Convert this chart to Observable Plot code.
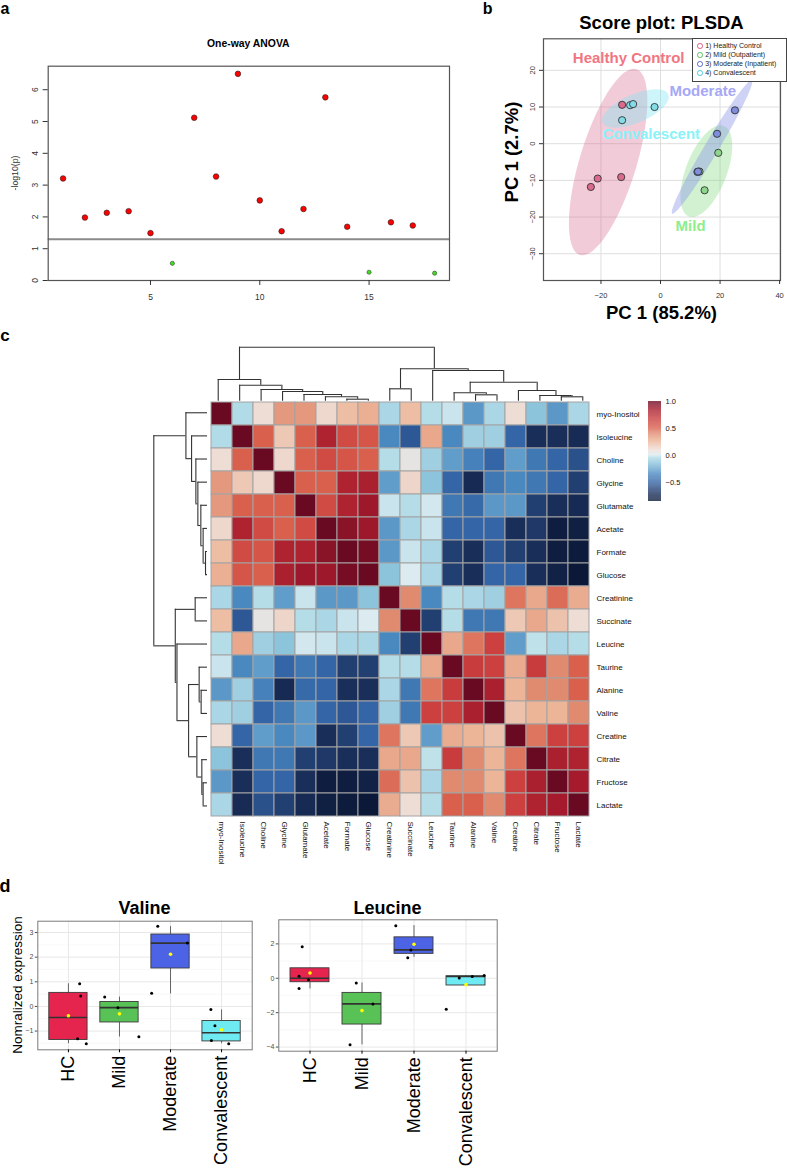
<!DOCTYPE html>
<html><head><meta charset="utf-8">
<script src="https://cdn.jsdelivr.net/npm/d3@7"></script>
<script src="https://cdn.jsdelivr.net/npm/@observablehq/plot@0.6"></script>
<style>
body{margin:0;background:#fff;}
#fig{position:relative;width:787px;height:1169px;overflow:hidden;background:#fff;font-family:"Liberation Sans",Arial,Helvetica,sans-serif;}
</style></head><body><div id="fig"></div>
<script>
// ---------------- DATA ----------------
// Panel a: one-way ANOVA
const anovaIndex = [1,2,3,4,5,6,7,8,9,10,11,12,13,14,15,16,17,18];
const anovaLogP  = [3.21,1.98,2.13,2.18,1.49,0.54,5.12,3.27,6.50,2.52,1.55,2.25,5.76,1.69,0.26,1.83,1.73,0.23];
const anovaThreshold = 1.30;
const anovaYTicks = [0,1,2,3,4,5,6];
const anovaXTicks = [5,10,15];

// Panel b: PLS-DA scores
const plsGroupNames = ["Healthy Control","Mild","Moderate","Convalescent"];
const plsLegendText = ["1) Healthy Control","2) Mild (Outpatient)","3) Moderate (Inpatient)","4) Convalescent"];
const plsGroup = [0,0,0,0, 1,1,1, 2,2,2,2, 3,3,3,3];
const plsX = [-12.9,-21.1,-23.4,-13.2, 19.4,14.8,13.1, 25.0,19.0,12.4,12.6, -12.9,-10.2,-9.2,-2.0];
const plsY = [10.6,-9.5,-11.8,-9.1, -2.5,-12.7,-7.6, 9.1,2.7,-7.7,-7.6, 6.4,10.5,10.8,10.0];
// confidence ellipses: centre and two semi-axis vectors (data units)
const ellCx = [-17.6, 15.4, 17.3, -8.4];
const ellCy = [-5.0, -7.5, -0.9, 9.6];
const ellAx = [9.49, 5.87, 13.38, 11.03];
const ellAy = [25.33, 12.34, 18.19, 3.83];
const ellBx = [9.13, 6.40, 2.02, 1.88];
const ellBy = [-2.25, -2.0, -0.98, -3.56];
const plsLabelX = [-10.7, 10.1, 14.2, -3.1];
const plsLabelY = [23.2, -22.6, 14.3, 2.7];
const plsXTicks = [-20,0,20,40];
const plsYTicks = [-30,-20,-10,0,10,20];

// Panel c: correlation heatmap (lower triangle, clustered order)
const heatLabels = ["myo-Inositol","Isoleucine","Choline","Glycine","Glutamate","Acetate","Formate","Glucose",
  "Creatinine","Succinate","Leucine","Taurine","Alanine","Valine","Creatine","Citrate","Fructose","Lactate"];
const corrLower = [
  [1],
  [-0.05,1],
  [0.10,0.50,1],
  [0.35,0.18,0.12,1],
  [0.35,0.50,0.50,0.50,1],
  [0.12,0.80,0.60,0.50,0.60,1],
  [0.22,0.60,0.55,0.80,0.80,0.92,1],
  [0.27,0.55,0.50,0.82,0.87,0.87,0.97,1],
  [-0.07,-0.35,-0.04,-0.28,-0.02,-0.30,-0.30,-0.15,1],
  [0.22,-0.55,0.05,0.13,-0.04,-0.07,-0.02,0.00,0.40,1],
  [-0.04,0.30,-0.10,-0.15,-0.01,-0.02,-0.07,-0.07,-0.35,-0.65,1],
  [-0.02,-0.35,-0.28,-0.50,-0.42,-0.50,-0.65,-0.65,-0.04,-0.04,0.30,1],
  [-0.30,-0.10,-0.38,-0.75,-0.48,-0.50,-0.72,-0.72,-0.07,-0.42,0.45,0.67,1],
  [-0.07,-0.10,-0.50,-0.42,-0.30,-0.50,-0.55,-0.50,-0.10,-0.42,0.65,0.65,0.82,1],
  [0.10,-0.50,-0.28,-0.35,-0.30,-0.72,-0.65,-0.50,0.45,0.18,-0.28,0.28,0.25,0.20,1],
  [-0.15,-0.72,-0.42,-0.42,-0.65,-0.68,-0.72,-0.72,0.30,0.30,-0.03,0.67,0.40,0.25,0.45,1],
  [-0.30,-0.72,-0.50,-0.50,-0.72,-0.83,-0.83,-0.80,0.47,0.20,-0.07,0.40,0.40,0.25,0.65,0.82,1],
  [-0.07,-0.74,-0.58,-0.65,-0.75,-0.82,-0.85,-0.87,0.28,0.10,-0.04,0.50,0.50,0.40,0.65,0.80,0.85,1]
];
// hclust-style merges (negative = leaf, 1-based; positive = earlier merge) and merge heights
const dendroMerge = [[-7,-8],[-6,1],[-5,2],[-4,3],[-3,4],[-2,5],[-1,6],
  [-17,-18],[-16,8],[-15,9],[-13,-14],[-12,11],[12,10],[-11,13],[-9,-10],[15,14],[7,16]];
const dendroHeight = [0.074,0.163,0.248,0.359,0.433,0.593,0.804,
  0.163,0.211,0.396,0.237,0.311,0.704,1.137,0.459,1.200,2.000];
const colorbarTicks = [1,0.5,0,-0.5];

// Panel d: box plots
const boxCats = ["HC","Mild","Moderate","Convalescent"];
const valLo   = [-1.51,-1.24,0.51,-1.51];
const valQ1   = [-1.36,-0.65,1.54,-1.42];
const valMed  = [-0.45,-0.05,2.57,-1.07];
const valQ3   = [0.55,0.18,2.92,-0.59];
const valHi   = [0.92,0.38,3.24,-0.14];
const valMean = [-0.38,-0.30,2.12,-0.95];
const valPtGroup = [0,0,0,0, 1,1,1, 2,2,2, 3,3,3,3];
const valPtJitter = [0.22,0.24,0.18,0.35, -0.29,-0.03,0.38, -0.25,0.33,-0.37, -0.21,-0.13,-0.20,0.14];
const valPtValue = [0.92,0.42,-1.31,-1.51, 0.38,-0.05,-1.23, 3.26,2.58,0.54, -0.12,-0.78,-1.38,-1.51];
const leuLo   = [-0.62,-3.87,1.22,-0.42];
const leuQ1   = [-0.23,-2.69,1.42,-0.42];
const leuMed  = [0.00,-1.49,1.65,0.10];
const leuQ3   = [0.58,-0.85,2.38,0.12];
const leuHi   = [0.58,-0.27,3.06,0.16];
const leuMean = [0.31,-1.88,1.98,-0.37];
const leuPtGroup = [0,0,0,0, 1,1,1, 2,2,2, 3,3,3,3];
const leuPtJitter = [-0.15,-0.21,-0.03,-0.21, -0.11,0.21,-0.23, -0.35,-0.06,-0.12, -0.13,0.12,0.35,-0.38];
const leuPtValue = [1.84,0.12,-0.09,-0.60, -0.27,-1.49,-3.87, 3.06,1.65,1.19, 0.02,0.10,0.16,-1.80];

// ---------------- STYLE ----------------
const FONT = '"Liberation Sans", Arial, Helvetica, sans-serif';
const plsPointColors = ["#DB6A8C","#8ED68E","#7E8EDC","#84DCE8"];
const plsEllColors = ["#D8628C","#7CD67C","#8A96E8","#7FE6F0"];
const plsEllOpacity = [0.33,0.35,0.42,0.38];
const plsLabelColors = ["#F07682","#8CEE8C","#A6A8F6","#8AF2F8"];
const plsLegendColors = ["#E05A80","#5CC05C","#5A6AD0","#4CCCDC"];
const boxColors = ["#E6254F","#58C257","#4D63E5","#6EEAF3"];
const heatStops = [-0.9,-0.72,-0.5,-0.35,-0.15,-0.04,0.0,0.1,0.25,0.4,0.5,0.65,0.85,1];
const heatColors = ["#081430","#1A2E5A","#3465A6","#4A88C0","#8CC4DC","#B5DDE8","#DCEBF0","#EEDDD5","#EDB598","#E08A70","#D9604D","#CC4040","#A51A2C","#6A0A22"];

const fig = document.getElementById("fig");
function place(el, left, top) {
  el.style.position = "absolute"; el.style.left = left + "px"; el.style.top = top + "px";
  el.style.overflow = "visible";
  fig.appendChild(el); return el;
}
function label(text, x, y, {size = 10, weight = "normal", color = "#000", rotate = 0} = {}) {
  const d = document.createElement("div");
  d.textContent = text;
  d.style.cssText = `position:absolute;left:${x}px;top:${y}px;white-space:nowrap;line-height:1;font-size:${size}px;font-weight:${weight};color:${color};font-family:${FONT};transform:translate(-50%,-50%) rotate(${rotate}deg);`;
  fig.appendChild(d);
}

// ---------------- PANEL A ----------------
const anova = anovaIndex.map((x, i) => ({x, y: anovaLogP[i], sig: anovaLogP[i] > anovaThreshold}));
place(Plot.plot({
  width: 460, height: 300,
  marginLeft: 47.7, marginRight: 11, marginTop: 65.7, marginBottom: 20,
  style: {fontFamily: FONT, background: "transparent", color: "#333"},
  x: {domain: [0.32, 18.68]},
  y: {domain: [0, 6.74]},
  marks: [
    Plot.ruleY([anovaThreshold], {stroke: "#8a8a8a", strokeWidth: 2}),
    Plot.dot(anova.filter(d => d.sig), {x: "x", y: "y", r: 2.8, fill: "#FF0000", stroke: "#222", strokeWidth: 0.6}),
    Plot.dot(anova.filter(d => !d.sig), {x: "x", y: "y", r: 2.1, fill: "#3EE01E", stroke: "#222", strokeWidth: 0.5}),
    Plot.frame({stroke: "#555", strokeWidth: 1.2}),
    Plot.axisY(anovaYTicks, {tickSize: 5, tickRotate: -90, tickPadding: 5, fontSize: 8.5, label: null}),
    Plot.axisX(anovaXTicks, {tickSize: 5, tickPadding: 8.5, fontSize: 8.5, label: null})
  ]
}), 0, 0);
label("a", 5, 9, {size: 16, weight: "bold"});
label("One-way ANOVA", 248.3, 44, {size: 10.4, weight: "bold"});
label("-log10(p)", 15, 173, {size: 8.7, color: "#333", rotate: -90});

// ---------------- PANEL B ----------------
const plsPts = plsX.map((x, i) => ({x, y: plsY[i], g: plsGroup[i]}));
function ellipsePts(k) {
  return d3.range(0, 2 * Math.PI + 0.001, Math.PI / 60).map(t => ({
    x: ellCx[k] + Math.cos(t) * ellAx[k] + Math.sin(t) * ellBx[k],
    y: ellCy[k] + Math.cos(t) * ellAy[k] + Math.sin(t) * ellBy[k]
  }));
}
const plsLabels = plsGroupNames.map((name, i) => ({name, x: plsLabelX[i], y: plsLabelY[i], c: plsLabelColors[i]}));
place(Plot.plot({
  width: 317, height: 330,
  marginLeft: 73, marginRight: 7, marginTop: 38.3, marginBottom: 50,
  style: {fontFamily: FONT, background: "transparent", color: "#333"},
  x: {domain: [-39.3, 40.3]},
  y: {domain: [-37.3, 28.6]},
  color: {type: "identity"},
  marks: [
    Plot.gridX(plsXTicks, {stroke: "#DEDEDE", strokeOpacity: 1, strokeWidth: 1}),
    Plot.gridY(plsYTicks, {stroke: "#DEDEDE", strokeOpacity: 1, strokeWidth: 1}),
    ...[0, 1, 2, 3].map(k => Plot.line(ellipsePts(k), {x: "x", y: "y", fill: plsEllColors[k], fillOpacity: plsEllOpacity[k], stroke: "none", clip: true})),
    Plot.dot(plsPts, {x: "x", y: "y", r: 3.6, fill: d => plsPointColors[d.g], stroke: "#333", strokeWidth: 0.9}),
    Plot.text(plsLabels, {x: "x", y: "y", text: "name", fill: "c", fontSize: 15, fontWeight: "bold"}),
    Plot.frame({stroke: "#555", strokeWidth: 1.2}),
    Plot.axisY(plsYTicks, {tickSize: 4, tickRotate: -90, tickPadding: 5, fontSize: 7.5, label: null}),
    Plot.axisX(plsXTicks, {tickSize: 4, tickPadding: 8, fontSize: 7.5, label: null})
  ]
}), 470, 0);
label("b", 487.7, 8.5, {size: 16, weight: "bold"});
label("Score plot: PLSDA", 661.5, 23, {size: 18.5, weight: "bold"});
label("PC 1 (2.7%)", 511.7, 152, {size: 18.5, weight: "bold", rotate: -90});
label("PC 1 (85.2%)", 661.5, 313, {size: 18.5, weight: "bold"});
// legend box
(() => {
  const box = document.createElement("div");
  box.style.cssText = `position:absolute;left:691.7px;top:38.3px;width:93px;height:42px;border:1px solid #444;background:#fff;font-family:${FONT};font-size:7px;color:#222;`;
  plsLegendText.forEach((t, i) => {
    const c = document.createElement("div");
    c.style.cssText = `position:absolute;left:4.6px;top:${6.4 + i * 9 - 2.5}px;width:3.6px;height:3.6px;border:0.9px solid ${plsLegendColors[i]};border-radius:50%;`;
    box.appendChild(c);
    const s = document.createElement("div");
    s.textContent = t;
    s.style.cssText = `position:absolute;left:12.5px;top:${8.4 + i * 9 - 6}px;white-space:nowrap;line-height:1;`;
    box.appendChild(s);
  });
  fig.appendChild(box);
})();

// ---------------- PANEL C ----------------
const cells = [];
heatLabels.forEach((r, i) => heatLabels.forEach((c, j) => {
  cells.push({row: r, col: c, v: i >= j ? corrLower[i][j] : corrLower[j][i]});
}));
const heatColor = {type: "linear", domain: heatStops, range: heatColors, interpolate: "rgb"};
place(Plot.plot({
  width: 787, height: 550,
  marginLeft: 207, marginRight: 194, marginTop: 70.7, marginBottom: 63,
  style: {fontFamily: FONT, background: "transparent", color: "#111"},
  x: {domain: heatLabels, padding: 0},
  y: {domain: heatLabels, padding: 0},
  color: heatColor,
  marks: [
    Plot.cell(cells, {x: "col", y: "row", fill: "v", stroke: "#A3A3A3", strokeWidth: 1}),
    Plot.axisX({anchor: "bottom", tickRotate: 90, tickSize: 0, tickPadding: 4, fontSize: 8, label: null}),
    Plot.axisY({anchor: "right", tickSize: 0, tickPadding: 3, fontSize: 8, label: null})
  ]
}), 0, 330);

function dendro() {
  const nodes = [], verts = [], horiz = [];
  const get = k => k < 0 ? {p: -k - 1 + 0.5, h: 0} : nodes[k - 1];
  dendroMerge.forEach(([a, b], i) => {
    const A = get(a), B = get(b), h = dendroHeight[i];
    nodes.push({p: (A.p + B.p) / 2, h});
    horiz.push({p1: A.p, p2: B.p, h});
    verts.push({p: A.p, h1: A.h, h2: h}, {p: B.p, h1: B.h, h2: h});
  });
  return {verts, horiz};
}
const dg = dendro();
const dStroke = {stroke: "#333", strokeWidth: 1.1};
// top dendrogram
place(Plot.plot({
  width: 787, height: 70,
  x: {domain: [0, 18], range: [207, 593], axis: null},
  y: {domain: [0, 2], range: [60.7, 6.7], axis: null},
  style: {background: "transparent"},
  marks: [
    Plot.ruleX(dg.verts, {x: "p", y1: "h1", y2: "h2", ...dStroke}),
    Plot.ruleY(dg.horiz, {y: "h", x1: "p1", x2: "p2", ...dStroke})
  ]
}), 0, 340);
// left dendrogram
place(Plot.plot({
  width: 70, height: 430,
  x: {domain: [2, 0], range: [13.3, 67], axis: null},
  y: {domain: [0, 18], range: [5.7, 422], axis: null},
  style: {background: "transparent"},
  marks: [
    Plot.ruleY(dg.verts, {y: "p", x1: "h1", x2: "h2", ...dStroke}),
    Plot.ruleX(dg.horiz, {x: "h", y1: "p1", y2: "p2", ...dStroke})
  ]
}), 140, 395);
// colour bar
const cbVals = d3.range(-0.85, 1, 0.01);
place(Plot.plot({
  width: 60, height: 115,
  marginLeft: 8, marginRight: 39, marginTop: 6, marginBottom: 9,
  style: {fontFamily: FONT, background: "transparent", color: "#111"},
  x: {domain: [0, 1], axis: null},
  y: {domain: [-0.85, 1]},
  color: heatColor,
  marks: [
    Plot.rect(cbVals, {x1: 0, x2: 1, y1: d => d, y2: d => Math.min(1, d + 0.011), fill: d => d}),
    Plot.axisY(colorbarTicks, {anchor: "right", tickSize: 0, tickPadding: 4, fontSize: 7.5, label: null})
  ]
}), 640, 395);
label("c", 5, 335, {size: 17, weight: "bold"});

// ---------------- PANEL D ----------------
function boxPanel({left, top, width, frameL, frameR, frameT, frameB, yDomain, yMajor, yMinor, lo, q1, med, q3, hi, mean, pg, pj, pv}) {
  const idx = [0, 1, 2, 3];
  const pts = pv.map((v, i) => ({x: pg[i] + pj[i], y: v}));
  const hw = 0.375;
  return place(Plot.plot({
    width, height: 1169 - top,
    marginLeft: frameL - left, marginRight: left + width - frameR,
    marginTop: frameT - top, marginBottom: 1169 - frameB,
    style: {fontFamily: FONT, background: "transparent"},
    x: {domain: [-0.6, 3.6]},
    y: {domain: yDomain},
    color: {type: "identity"},
    marks: [
      Plot.gridY(yMinor, {stroke: "#F3F3F3", strokeOpacity: 1, strokeWidth: 0.6}),
      Plot.gridY(yMajor, {stroke: "#E8E8E8", strokeOpacity: 1, strokeWidth: 1}),
      Plot.gridX(idx, {stroke: "#E8E8E8", strokeOpacity: 1, strokeWidth: 1}),
      Plot.ruleX(idx, {x: i => i, y1: i => lo[i], y2: i => hi[i], stroke: "#555", strokeWidth: 0.9}),
      Plot.rect(idx, {x1: i => i - hw, x2: i => i + hw, y1: i => q1[i], y2: i => q3[i], fill: i => boxColors[i], stroke: "#3a3a3a", strokeWidth: 0.9}),
      Plot.ruleY(idx, {y: i => med[i], x1: i => i - hw, x2: i => i + hw, stroke: "#333", strokeWidth: 1.6}),
      Plot.dot(pts, {x: "x", y: "y", r: 1.5, fill: "#000"}),
      Plot.dot(idx, {x: i => i, y: i => mean[i], r: 1.8, fill: "#FFFF00"}),
      Plot.frame({stroke: "#7A7A7A", strokeWidth: 1}),
      Plot.axisY(yMajor, {tickSize: 2.5, tickPadding: 2, fontSize: 7, color: "#4D4D4D", label: null}),
      Plot.axisX(idx, {tickFormat: i => boxCats[i], tickRotate: -90, tickSize: 3, tickPadding: 3, fontSize: 18, color: "#000", label: null})
    ]
  }), left, top);
}
boxPanel({left: 0, top: 895, width: 262, frameL: 37.3, frameR: 251.7, frameT: 920.7, frameB: 1049.3,
  yDomain: [-1.76, 3.46], yMajor: [-1, 0, 1, 2, 3], yMinor: [-1.5, -0.5, 0.5, 1.5, 2.5],
  lo: valLo, q1: valQ1, med: valMed, q3: valQ3, hi: valHi, mean: valMean,
  pg: valPtGroup, pj: valPtJitter, pv: valPtValue});
boxPanel({left: 262, top: 895, width: 250, frameL: 278.3, frameR: 496.7, frameT: 919.3, frameB: 1050.7,
  yDomain: [-4.24, 3.4], yMajor: [-4, -2, 0, 2], yMinor: [-3, -1, 1, 3],
  lo: leuLo, q1: leuQ1, med: leuMed, q3: leuQ3, hi: leuHi, mean: leuMean,
  pg: leuPtGroup, pj: leuPtJitter, pv: leuPtValue});
label("d", 5, 886, {size: 18, weight: "bold"});
label("Valine", 144.5, 908, {size: 18, weight: "bold"});
label("Leucine", 387.5, 908, {size: 18, weight: "bold"});
label("Nomralized expression", 18.3, 985, {size: 13.5, rotate: -90});
</script></body></html>
